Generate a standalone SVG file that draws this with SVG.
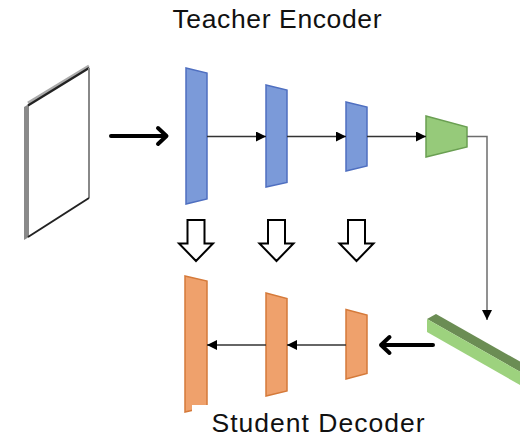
<svg xmlns="http://www.w3.org/2000/svg" width="520" height="445" viewBox="0 0 520 445">
  <defs>
    <marker id="tri" viewBox="0 0 10 10" refX="10" refY="5" markerWidth="10" markerHeight="10" markerUnits="userSpaceOnUse" orient="auto">
      <path d="M0,0 L10,5 L0,10 Z" fill="#000"/>
    </marker>
    <style>
      .label { font-family: "Liberation Sans", Arial, sans-serif; font-size: 26.5px; fill: #111; text-anchor: middle; }
      .enc { fill: #7b9ad9; stroke: #4f6fc0; stroke-width: 1.5; }
      .dec { fill: #efa16c; stroke: #d57a3a; stroke-width: 1.5; }
      .bneck { fill: #96ca7a; stroke: #6a9f52; stroke-width: 1.5; }
      .thin { fill: none; stroke: #333; stroke-width: 1.3; marker-end: url(#tri); }
      .thick { fill: none; stroke: #000; stroke-width: 4; stroke-linecap: round; stroke-linejoin: round; }
      .hollow { fill: #fff; stroke: #000; stroke-width: 2; stroke-linejoin: miter; }
    </style>
  </defs>

  <rect width="520" height="445" fill="#fff"/>

  <text class="label" x="277" y="28" textLength="209" lengthAdjust="spacing">Teacher Encoder</text>

  <!-- input image frame -->
  <g id="input-image">
    <polygon points="28,105 89,68 89,198 28,237" fill="#fff"/>
    <line x1="28" y1="103" x2="89" y2="66" stroke="#aaa" stroke-width="3"/>
    <polygon points="24,107 29,104 29,237 24,240" fill="#8a8a8a"/>
    <line x1="28" y1="105.5" x2="89" y2="68" stroke="#222" stroke-width="2.2"/>
    <line x1="89" y1="68" x2="89" y2="198" stroke="#888" stroke-width="2"/>
    <line x1="89" y1="198" x2="28" y2="237" stroke="#222" stroke-width="2"/>
  </g>

  <!-- teacher encoder stages -->
  <g id="enc1"><polygon class="enc" points="186,68 207,73 207,199 186,204"/></g>
  <g id="enc2"><polygon class="enc" points="266,85 287,90 287,182.5 266,187"/></g>
  <g id="enc3"><polygon class="enc" points="346,102 367,107 367,166 346,171"/></g>

  <!-- bottleneck -->
  <g id="bottleneck"><polygon class="bneck" points="426,116 467,127 467,147 426,157"/></g>

  <!-- fused feature slab -->
  <g id="slab">
    <polygon points="427,319 436,314 520,361.6 520,371.7" fill="#6b8d54"/>
    <polygon points="427,319 520,371.7 520,385 427,332" fill="#9dd27e"/>
  </g>

  <!-- student decoder stages -->
  <g id="dec3"><polygon class="dec" points="346,309.5 367,315 367,373.5 346,379"/></g>
  <g id="dec2"><polygon class="dec" points="266,293 287,298.5 287,391 266,396"/></g>
  <g id="dec1"><polygon class="dec" points="185,276 207,281 207,407 185,412"/></g>
  <rect x="192" y="405" width="22" height="10" fill="#fff"/>

  <!-- distillation arrows -->
  <g id="distill">
    <path class="hollow" d="M187.5,220 H204.5 V243.5 H213 L196,261 L179,243.5 H187.5 Z"/>
    <path class="hollow" d="M268,220 H285 V243.5 H293.5 L276.5,261 L259.5,243.5 H268 Z"/>
    <path class="hollow" d="M348,220 H365 V243.5 H373.5 L356.5,261 L339.5,243.5 H348 Z"/>
  </g>

  <!-- connectors -->
  <g id="connectors">
    <path class="thick" d="M111,136 H166 M158,128 L166.5,136 L158,144"/>
    <line class="thin" x1="207" y1="136.5" x2="266" y2="136.5"/>
    <line class="thin" x1="287" y1="136.5" x2="346" y2="136.5"/>
    <line class="thin" x1="367" y1="136.5" x2="426" y2="136.5"/>
    <path d="M467,136.5 H487 V320" fill="none" stroke="#6d6d6d" stroke-width="1.5" marker-end="url(#tri)"/>
    <path class="thick" d="M433,345 H381 M389.5,337 L381,345 L389.5,353"/>
    <line class="thin" x1="346" y1="345" x2="287" y2="345"/>
    <line class="thin" x1="266" y1="345" x2="207" y2="345"/>
  </g>

  <text class="label" x="318" y="432" textLength="213" lengthAdjust="spacing">Student Decoder</text>
</svg>
